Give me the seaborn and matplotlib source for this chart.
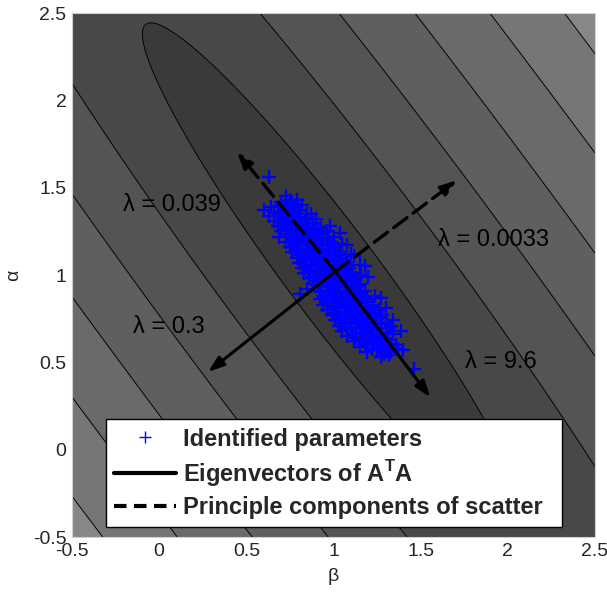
import matplotlib
matplotlib.use("Agg")
import matplotlib.pyplot as plt
from matplotlib.lines import Line2D
import numpy as np
import pandas as pd
import seaborn as sns

# %% contour background: elliptic cost around the optimum
center = [1.0, 1.0]
valley_dir = [-0.6, 0.8]          # long axis of the ellipses
axis_ratio = 6.9
levels = [0.0, 0.26, 0.60, 0.94, 1.28, 1.62, 1.96, 3.0]
fill_colors = ["#3a3a3a", "#484848", "#545454", "#5f5f5f", "#6a6a6a", "#767676", "#878787"]

# %% identified parameters (scatter)
beta = [0.63, 0.73, 0.75, 0.70, 0.76, 0.79, 0.64, 0.70, 0.74, 0.78, 0.82,
        0.60, 0.66, 0.72, 0.77, 0.80, 0.85, 0.63, 0.69, 0.73, 0.76, 0.81, 0.87,
        0.66, 0.72, 0.75, 0.79, 0.83, 0.90, 0.68, 0.74, 0.78, 0.82, 0.86, 0.93, 0.98,
        0.70, 0.76, 0.80, 0.83, 0.87, 0.91, 0.96, 0.69, 0.75, 0.79, 0.84, 0.88, 0.92, 1.00, 1.04,
        0.73, 0.78, 0.82, 0.86, 0.90, 0.94, 0.99, 1.05, 0.75, 0.80, 0.84, 0.88, 0.92, 0.96, 1.01, 1.08,
        0.76, 0.82, 0.86, 0.90, 0.94, 0.98, 1.03, 1.10, 0.79, 0.84, 0.88, 0.92, 0.96, 1.00, 1.05, 1.12,
        0.80, 0.85, 0.90, 0.94, 0.98, 1.02, 1.07, 1.15, 0.82, 0.87, 0.92, 0.96, 1.00, 1.04, 1.09, 1.18,
        0.83, 0.89, 0.93, 0.98, 1.02, 1.06, 1.11, 1.16, 0.86, 0.91, 0.95, 1.00, 1.04, 1.08, 1.13, 1.20,
        0.88, 0.93, 0.97, 1.02, 1.06, 1.10, 1.15, 0.85, 0.92, 0.96, 1.00, 1.04, 1.08, 1.12, 1.18,
        0.81, 0.94, 0.98, 1.02, 1.06, 1.10, 1.15, 1.24, 0.92, 0.97, 1.01, 1.05, 1.09, 1.13, 1.19, 1.27,
        0.94, 0.99, 1.03, 1.07, 1.11, 1.16, 1.22, 0.96, 1.02, 1.06, 1.10, 1.14, 1.19, 1.26, 1.30,
        0.99, 1.04, 1.08, 1.12, 1.16, 1.21, 1.28, 1.01, 1.06, 1.10, 1.14, 1.19, 1.24, 1.34,
        1.03, 1.08, 1.13, 1.17, 1.22, 1.27, 1.33, 1.05, 1.10, 1.15, 1.20, 1.25, 1.30, 1.39,
        1.08, 1.13, 1.18, 1.23, 1.28, 1.34, 1.12, 1.17, 1.22, 1.27, 1.31,
        1.15, 1.20, 1.26, 1.30, 1.36, 1.19, 1.25, 1.29, 1.33, 1.40, 1.27, 1.32, 1.46]
alpha = [1.56, 1.45, 1.43, 1.42, 1.41, 1.43, 1.39, 1.40, 1.38, 1.39, 1.40,
         1.37, 1.36, 1.38, 1.36, 1.37, 1.35, 1.34, 1.35, 1.33, 1.34, 1.33, 1.35,
         1.31, 1.30, 1.32, 1.31, 1.30, 1.32, 1.28, 1.29, 1.27, 1.28, 1.29, 1.27, 1.28,
         1.25, 1.24, 1.26, 1.25, 1.24, 1.26, 1.25, 1.22, 1.23, 1.21, 1.22, 1.23, 1.21, 1.22, 1.24,
         1.19, 1.18, 1.20, 1.19, 1.18, 1.20, 1.19, 1.18, 1.16, 1.17, 1.15, 1.16, 1.17, 1.15, 1.16, 1.17,
         1.13, 1.12, 1.14, 1.13, 1.12, 1.14, 1.13, 1.12, 1.10, 1.11, 1.09, 1.10, 1.11, 1.09, 1.10, 1.11,
         1.07, 1.06, 1.08, 1.07, 1.06, 1.08, 1.07, 1.06, 1.04, 1.05, 1.03, 1.04, 1.05, 1.03, 1.04, 1.05,
         1.01, 1.00, 1.02, 1.01, 1.00, 1.02, 1.01, 1.00, 0.98, 0.99, 0.97, 0.98, 0.99, 0.97, 0.98, 0.99,
         0.95, 0.94, 0.96, 0.95, 0.94, 0.96, 0.95, 0.92, 0.91, 0.93, 0.92, 0.91, 0.93, 0.92, 0.91,
         0.89, 0.88, 0.90, 0.89, 0.88, 0.90, 0.89, 0.88, 0.86, 0.87, 0.85, 0.86, 0.87, 0.85, 0.86, 0.87,
         0.83, 0.82, 0.84, 0.83, 0.82, 0.84, 0.83, 0.80, 0.81, 0.79, 0.80, 0.81, 0.79, 0.80, 0.81,
         0.77, 0.76, 0.78, 0.77, 0.76, 0.78, 0.77, 0.74, 0.75, 0.73, 0.74, 0.75, 0.73, 0.74,
         0.71, 0.70, 0.72, 0.71, 0.70, 0.72, 0.71, 0.68, 0.69, 0.67, 0.68, 0.69, 0.67, 0.68,
         0.65, 0.64, 0.66, 0.65, 0.64, 0.66, 0.62, 0.63, 0.61, 0.62, 0.63,
         0.59, 0.60, 0.58, 0.59, 0.60, 0.56, 0.57, 0.55, 0.56, 0.57, 0.53, 0.54, 0.46]

# dense core of the cloud
beta_core = [0.68, 0.71, 0.745, 0.78, 0.70, 0.74, 0.775, 0.80, 0.84,
             0.71, 0.76, 0.80, 0.84, 0.88, 0.73, 0.78, 0.815, 0.85, 0.89,
             0.74, 0.78, 0.82, 0.86, 0.90, 0.94, 0.76, 0.80, 0.84, 0.88, 0.92, 0.97,
             0.78, 0.82, 0.86, 0.90, 0.94, 0.98, 0.79, 0.84, 0.88, 0.92, 0.96, 1.01,
             0.81, 0.86, 0.90, 0.94, 0.98, 1.03, 0.83, 0.87, 0.92, 0.96, 1.00, 1.05,
             0.84, 0.89, 0.94, 0.98, 1.02, 1.07, 0.86, 0.91, 0.95, 1.00, 1.04, 1.08,
             0.88, 0.93, 0.97, 1.02, 1.06, 1.10, 0.90, 0.95, 0.99, 1.04, 1.08, 1.12,
             0.91, 0.97, 1.01, 1.06, 1.10, 1.14, 0.93, 0.99, 1.03, 1.08, 1.12, 1.16,
             0.95, 1.00, 1.05, 1.10, 1.14, 1.18, 0.97, 1.02, 1.07, 1.12, 1.16, 1.20,
             0.99, 1.04, 1.09, 1.14, 1.18, 1.22, 1.01, 1.06, 1.11, 1.15, 1.20, 1.24,
             1.03, 1.08, 1.13, 1.17, 1.22, 1.27, 1.05, 1.10, 1.15, 1.20, 1.25, 1.30,
             1.08, 1.13, 1.18, 1.22, 1.27, 1.32, 1.11, 1.16, 1.21, 1.26, 1.31,
             1.15, 1.20, 1.25, 1.29, 1.18, 1.23, 1.28, 1.33, 1.22, 1.27, 1.31, 1.37]
alpha_core = [1.355, 1.355, 1.355, 1.355, 1.325, 1.325, 1.325, 1.325, 1.325,
              1.295, 1.295, 1.295, 1.295, 1.295, 1.265, 1.265, 1.265, 1.265, 1.265,
              1.235, 1.235, 1.235, 1.235, 1.235, 1.235, 1.205, 1.205, 1.205, 1.205, 1.205, 1.205,
              1.175, 1.175, 1.175, 1.175, 1.175, 1.175, 1.145, 1.145, 1.145, 1.145, 1.145, 1.145,
              1.115, 1.115, 1.115, 1.115, 1.115, 1.115, 1.085, 1.085, 1.085, 1.085, 1.085, 1.085,
              1.055, 1.055, 1.055, 1.055, 1.055, 1.055, 1.025, 1.025, 1.025, 1.025, 1.025, 1.025,
              0.995, 0.995, 0.995, 0.995, 0.995, 0.995, 0.965, 0.965, 0.965, 0.965, 0.965, 0.965,
              0.935, 0.935, 0.935, 0.935, 0.935, 0.935, 0.905, 0.905, 0.905, 0.905, 0.905, 0.905,
              0.875, 0.875, 0.875, 0.875, 0.875, 0.875, 0.845, 0.845, 0.845, 0.845, 0.845, 0.845,
              0.815, 0.815, 0.815, 0.815, 0.815, 0.815, 0.785, 0.785, 0.785, 0.785, 0.785, 0.785,
              0.755, 0.755, 0.755, 0.755, 0.755, 0.755, 0.725, 0.725, 0.725, 0.725, 0.725, 0.725,
              0.695, 0.695, 0.695, 0.695, 0.695, 0.695, 0.665, 0.665, 0.665, 0.665, 0.665,
              0.635, 0.635, 0.635, 0.635, 0.605, 0.605, 0.605, 0.605, 0.575, 0.575, 0.575, 0.575]

# %% arrows (start = center of scatter, end = tip)
arrow_origin = [1.01, 1.02]
eig_tips = [[1.555, 0.30], [0.28, 0.445]]
pc_tips = [[0.447, 1.704], [1.709, 1.543]]

lambda_texts = ["\u03bb = 0.039", "\u03bb = 0.0033", "\u03bb = 0.3", "\u03bb = 9.6"]
lambda_pos = [[-0.21, 1.40], [1.60, 1.20], [-0.15, 0.70], [1.755, 0.50]]

ticks = [-0.5, 0, 0.5, 1, 1.5, 2, 2.5]
tick_labels = ["-0.5", "0", "0.5", "1", "1.5", "2", "2.5"]

# %%
sns.set_theme(style="white")
plt.rcParams["font.family"] = ["Liberation Sans", "DejaVu Sans"]
plt.rcParams["mathtext.fontset"] = "custom"
plt.rcParams["mathtext.rm"] = "Liberation Sans"
plt.rcParams["mathtext.bf"] = "Liberation Sans:bold"

fig = plt.figure(figsize=(6.07, 5.97), dpi=100)
ax = fig.add_axes([72 / 607, 1 - 537 / 597, 523 / 607, 524 / 597])

grid = np.linspace(-0.5, 2.5, 400)
B, A = np.meshgrid(grid, grid)
u = np.array(valley_dir) / np.linalg.norm(valley_dir)
v = np.array([-u[1], u[0]]) * -1
db, da = B - center[0], A - center[1]
cost = np.sqrt(((u[0] * db + u[1] * da) / axis_ratio) ** 2 + (v[0] * db + v[1] * da) ** 2)
ax.contourf(B, A, cost, levels=levels, colors=fill_colors)
ax.contour(B, A, cost, levels=levels[1:-1], colors="black", linewidths=0.7)

scatter_df = pd.DataFrame({"beta": beta + beta_core, "alpha": alpha + alpha_core})
sns.scatterplot(data=scatter_df, x="beta", y="alpha", marker="+", color="#0000ff",
                s=95, linewidths=1.7, ax=ax, zorder=3)

for tip in eig_tips:
    ax.annotate("", xy=tip, xytext=arrow_origin,
                arrowprops=dict(arrowstyle="-|>,head_length=0.8,head_width=0.28",
                                color="black", lw=2.2, shrinkA=0, shrinkB=0,
                                mutation_scale=12), zorder=4)
for tip in pc_tips:
    ax.annotate("", xy=tip, xytext=arrow_origin,
                arrowprops=dict(arrowstyle="-|>,head_length=0.8,head_width=0.28",
                                color="black", lw=2.4, ls=(0, (5, 2.3)), shrinkA=0, shrinkB=0,
                                mutation_scale=12), zorder=4)

for txt, (bx, ay) in zip(lambda_texts, lambda_pos):
    ax.text(bx, ay, txt, fontsize=17, color="black", ha="left", va="center", zorder=5)

ax.set_xlim(-0.5, 2.5)
ax.set_ylim(-0.5, 2.5)
ax.set_xticks(ticks)
ax.set_xticklabels(tick_labels)
ax.set_yticks(ticks)
ax.set_yticklabels(tick_labels)
ax.tick_params(length=0, labelsize=14, labelcolor="#262626", pad=4)
ax.set_xlabel("\u03b2", fontsize=14, color="#262626", labelpad=6)
ax.set_ylabel("\u03b1", fontsize=14, color="#262626", labelpad=8)
for sp in ax.spines.values():
    sp.set_color("#d0d0d0")
    sp.set_linewidth(0.8)

handles = [
    Line2D([], [], marker="+", color="blue", linestyle="none", markersize=9, markeredgewidth=1.0),
    Line2D([], [], color="black", lw=3),
    Line2D([], [], color="black", lw=3, ls=(0, (3, 1.8))),
]
labels = ["Identified parameters", r"Eigenvectors of A$^\mathbf{T}$A", "Principle components of scatter"]
leg = ax.legend(handles, labels, loc="lower left", bbox_to_anchor=(0.065, 0.019, 0.872, 0.214),
                mode="expand", borderaxespad=0, fancybox=False, framealpha=1,
                edgecolor="black", prop={"size": 17, "weight": "bold"},
                handlelength=2.6, handletextpad=0.3, labelspacing=0.3, borderpad=0.35)
leg.get_frame().set_linewidth(1.0)
leg.set_zorder(6)

fig.savefig("out.png", dpi=100)
